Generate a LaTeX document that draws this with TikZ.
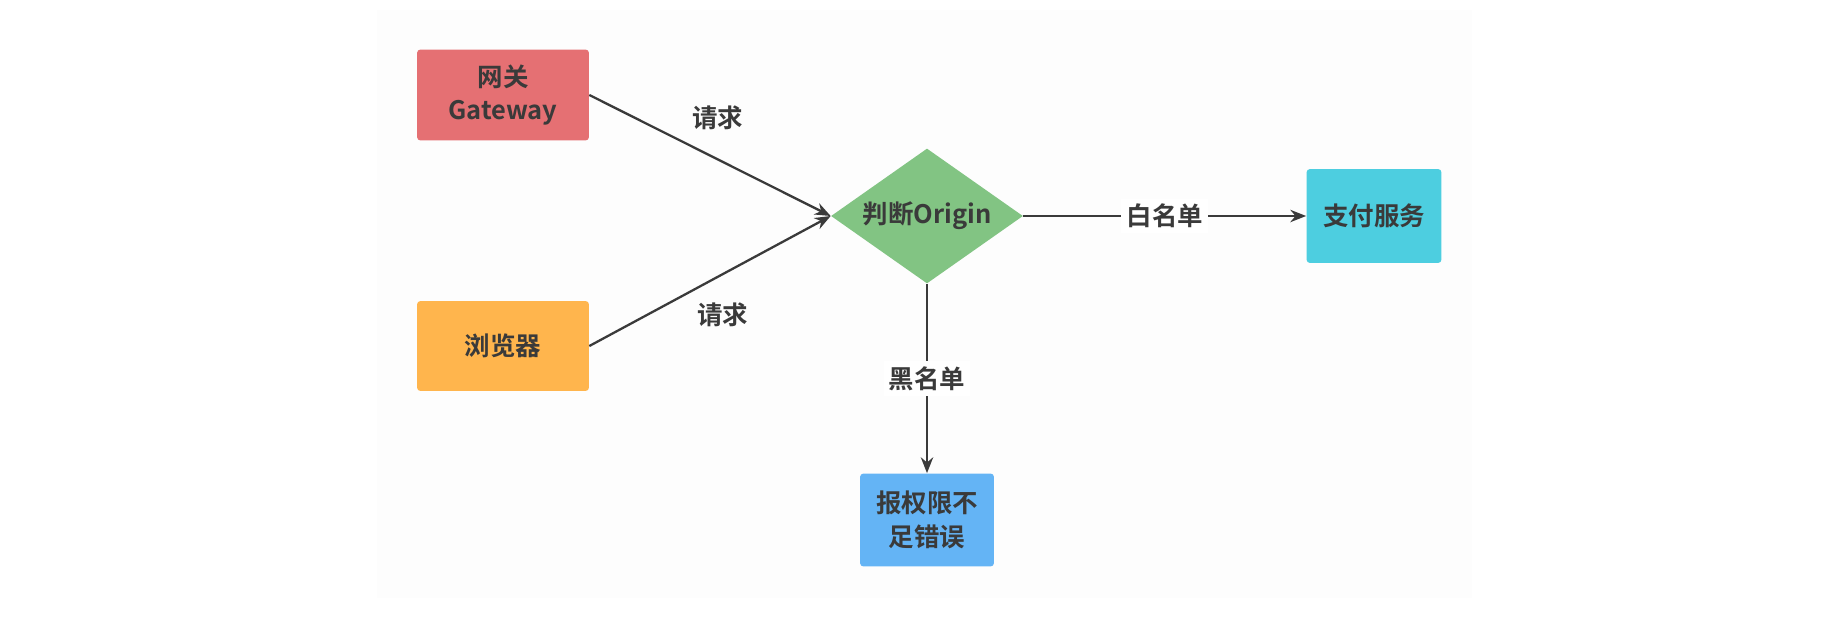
\documentclass[tikz,border=0pt]{standalone}
\usepackage{fontspec}
\setmainfont{Noto Sans CJK SC}[BoldFont={Noto Sans CJK SC Bold}]
\usepackage{xcolor}
\usepackage{tikz}
\usetikzlibrary{shapes.geometric, arrows.meta, positioning}
\definecolor{gatered}{RGB}{229, 112, 115}
\definecolor{browserorange}{RGB}{255, 181, 77}
\definecolor{judgegreen}{RGB}{130, 196, 131}
\definecolor{paycyan}{RGB}{77, 206, 224}
\definecolor{errorblue}{RGB}{100, 180, 245}
\definecolor{inkgray}{RGB}{58, 58, 58}
\definecolor{paperbg}{RGB}{253, 253, 253}

\begin{document}
\begin{tikzpicture}[
    x=0.02cm, y=-0.02cm,
    font=\fontsize{14.5}{19}\selectfont\bfseries,
    box/.style={rectangle, rounded corners=2pt, align=center, text=inkgray, inner sep=2pt},
    judge/.style={diamond, aspect=1.42, fill=judgegreen, text=inkgray, inner sep=0pt, minimum width=3.84cm, minimum height=2.7cm},
    arrow/.style={-{Stealth[length=9pt, width=7pt]}, line width=1.3pt, draw=inkgray},
    tag/.style={text=inkgray, fill=white, inner sep=3pt}
]
    \useasboundingbox (0,0) rectangle (1830,622);
    \fill[paperbg] (377,10) rectangle (1472,598);

    \node[box, fill=gatered, minimum width=3.44cm, minimum height=1.82cm] (gateway) at (503,95) {网关\\Gateway};
    \node[box, fill=browserorange, minimum width=3.44cm, minimum height=1.8cm] (browser) at (503,346) {浏览器};
    \node[judge] (judge) at (927,216) {判断Origin};
    \node[box, fill=paycyan, minimum width=2.7cm, minimum height=1.88cm] (pay) at (1374,216) {支付服务};
    \node[box, fill=errorblue, minimum width=2.68cm, minimum height=1.86cm] (error) at (927,520) {报权限不\\足错误};

    \draw[arrow] (gateway.east) -- node[midway, above=0.38cm, xshift=0.15cm, text=inkgray] {请求} (judge.west);
    \draw[arrow] (browser.east) -- node[midway, below=0.3cm, xshift=0.25cm, text=inkgray] {请求} (judge.west);
    \draw[arrow] (judge.east) -- node[midway, tag] {白名单} (pay.west);
    \draw[arrow] (judge.south) -- node[midway, tag] {黑名单} (error.north);
\end{tikzpicture}
\end{document}
